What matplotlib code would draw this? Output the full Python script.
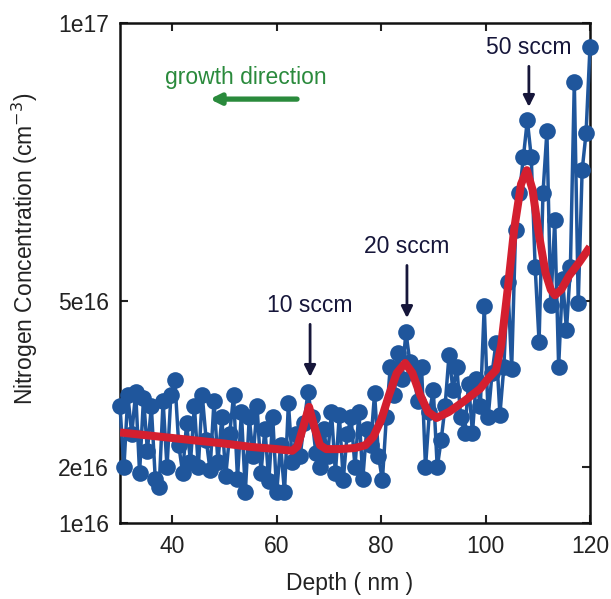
import matplotlib
matplotlib.use("Agg")
import matplotlib.pyplot as plt

plt.rcParams['font.family'] = ['Liberation Sans', 'DejaVu Sans']

UNIT = 1e16

depth = [30.00, 30.75, 31.50, 32.25, 33.00, 33.75, 34.50, 35.25, 36.00, 36.75,
         37.50, 38.25, 39.00, 39.75, 40.50, 41.25, 42.00, 42.75, 43.50, 44.25,
         45.00, 45.75, 46.50, 47.25, 48.00, 48.75, 49.50, 50.25, 51.00, 51.75,
         52.50, 53.25, 54.00, 54.75, 55.50, 56.25, 57.00, 57.75, 58.50, 59.25,
         60.00, 60.75, 61.50, 62.25, 63.00, 63.75, 64.50, 65.25, 66.00, 66.75,
         67.50, 68.25, 69.00, 69.75, 70.50, 71.25, 72.00, 72.75, 73.50, 74.25,
         75.00, 75.75, 76.50, 77.25, 78.00, 78.75, 79.50, 80.25, 81.00, 81.75,
         82.50, 83.25, 84.00, 84.75, 85.50, 86.25, 87.00, 87.75, 88.50, 89.25,
         90.00, 90.75, 91.50, 92.25, 93.00, 93.75, 94.50, 95.25, 96.00, 96.75,
         97.50, 98.25, 99.00, 99.75, 100.50, 101.25, 102.00, 102.75, 103.50, 104.25,
         105.00, 105.75, 106.50, 107.25, 108.00, 108.75, 109.50, 110.25, 111.00, 111.75,
         112.50, 113.25, 114.00, 114.75, 115.50, 116.25, 117.00, 117.75, 118.50, 119.25,
         120.00]

conc = [3.10, 2.00, 3.30, 2.60, 3.35, 1.90, 3.25, 2.30, 3.10, 1.80,
        1.65, 3.20, 2.00, 3.30, 3.57, 2.40, 1.90, 2.80, 2.10, 3.10,
        2.00, 3.30, 2.50, 1.95, 3.20, 2.10, 2.90, 1.85, 2.60, 3.30,
        1.80, 3.00, 1.55, 2.90, 2.20, 3.10, 1.90, 2.70, 1.75, 2.90,
        1.55, 2.40, 1.55, 3.16, 2.10, 2.60, 2.20, 2.80, 3.36, 2.90,
        2.26, 2.00, 2.70, 2.20, 3.00, 1.90, 2.95, 1.77, 2.60, 2.90,
        2.00, 3.00, 1.80, 2.70, 2.40, 3.34, 2.20, 1.77, 2.90, 3.81,
        3.30, 4.06, 3.60, 4.44, 3.90, 3.70, 3.20, 3.81, 2.00, 3.00,
        3.39, 2.00, 2.49, 3.10, 4.02, 3.40, 3.81, 2.90, 2.62, 3.50,
        2.62, 3.60, 3.10, 4.90, 2.90, 3.70, 4.24, 2.95, 3.80, 5.34,
        3.77, 6.27, 6.94, 7.59, 8.25, 7.59, 5.61, 4.26, 6.94, 8.05,
        4.92, 6.45, 3.81, 5.40, 4.47, 5.60, 8.94, 4.96, 7.35, 8.02,
        9.57]

fit_depth = [30, 35, 40, 45, 50, 55, 60, 63, 64, 65, 66.2, 67.3, 68.3, 69.5,
             72, 75, 77, 78.5, 80, 81.5, 83, 84.6, 86, 87.5, 89, 90.6, 93, 96,
             99, 100.5, 102, 103, 104.3, 105.5, 106.8, 107.9, 109, 110.2, 111.5,
             112.5, 113.3, 114.5, 116, 118, 120]
fit_conc = [2.63, 2.58, 2.53, 2.48, 2.43, 2.37, 2.33, 2.30, 2.38, 2.70, 3.09, 2.70,
            2.40, 2.33, 2.33, 2.35, 2.40, 2.55, 2.85, 3.30, 3.70, 3.88, 3.70, 3.30,
            3.00, 2.89, 3.00, 3.20, 3.42, 3.60, 3.75, 4.20, 5.25, 6.30, 7.10, 7.35,
            7.00, 6.20, 5.50, 5.20, 5.10, 5.20, 5.45, 5.70, 5.97]

yticks = [1, 2, 5, 10]
ytick_labels = ["1e16", "2e16", "5e16", "1e17"]
xticks = [40, 60, 80, 100, 120]

ann_labels = ["10 sccm", "20 sccm", "50 sccm"]
ann_depth = [66.4, 84.95, 108.3]
ann_tip = [3.63, 4.69, 8.49]
ann_offset = [71, 71, 59]

blue = '#1f569c'
red = '#d41f2f'
navy = '#16163a'
green = '#2a8a3c'
FS = 16.5

fig = plt.figure(figsize=(6.11, 5.99), dpi=100)
ax = fig.add_axes([0.1964, 0.1269, 0.7692, 0.8347])

ax.plot(depth, [c * UNIT for c in conc], '-o', color=blue, lw=2.5, ms=12,
        markeredgewidth=0, clip_on=False, zorder=3)
ax.plot(fit_depth, [c * UNIT for c in fit_conc], '-', color=red, lw=5.8,
        solid_joinstyle='round', solid_capstyle='butt', zorder=4)

ax.set_xlim(30, 120)
ax.set_ylim(1 * UNIT, 10 * UNIT)
ax.set_xticks(xticks)
ax.set_yticks([t * UNIT for t in yticks])
ax.set_yticklabels(ytick_labels)
ax.yaxis.get_offset_text().set_visible(False)
ax.tick_params(direction='in', length=6, width=1.5, labelsize=FS,
               top=True, right=True, pad=9, colors='#222222')
ax.tick_params(axis='y', pad=8)
for s in ax.spines.values():
    s.set_linewidth(1.8)
    s.set_color('#111111')

ax.set_xlabel("Depth ( nm )", fontsize=FS, color='#222222', va='center')
ax.set_ylabel("Nitrogen Concentration (cm$^{-3}$)", fontsize=FS, color='#222222',
              va='center')
ax.xaxis.set_label_coords(0.489, -0.122)
ax.yaxis.set_label_coords(-0.202, 0.548)

for label, x, y, off in zip(ann_labels, ann_depth, ann_tip, ann_offset):
    ax.annotate(label, xy=(x, y * UNIT), xytext=(0, off), textcoords='offset pixels',
                ha='center', va='center', fontsize=FS, color=navy,
                arrowprops=dict(arrowstyle='-|>', color=navy, lw=2.0,
                                mutation_scale=17, shrinkA=3, shrinkB=0))

ax.annotate("", xy=(47.2, 8.63 * UNIT), xytext=(63.9, 8.63 * UNIT),
            arrowprops=dict(arrowstyle='-|>', color=green, lw=3.8,
                            mutation_scale=15, shrinkA=0, shrinkB=0))
ax.text(54.1, 9.01 * UNIT, "growth direction", ha='center', va='center',
        fontsize=FS, color=green)

fig.savefig("out.png", dpi=100)
